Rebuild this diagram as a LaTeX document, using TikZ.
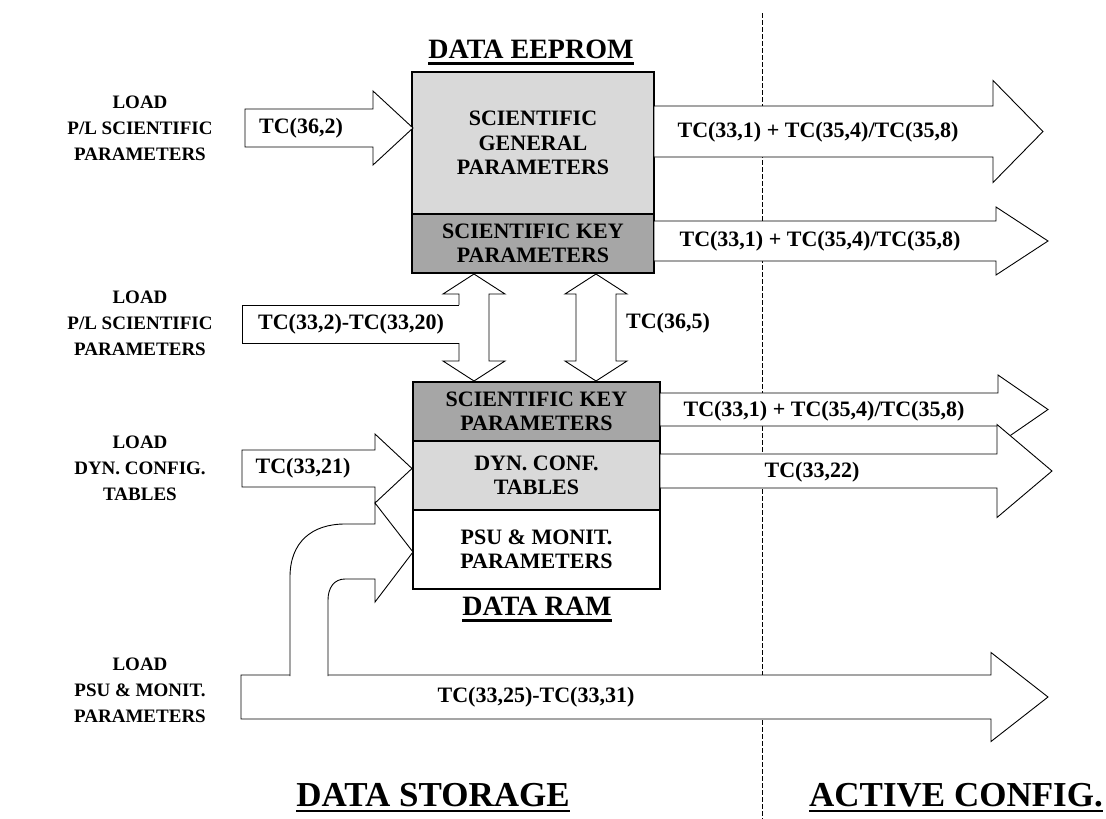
\documentclass[tikz,border=0pt]{standalone}
\usepackage{fontspec}
\setmainfont{Liberation Serif}
\usepackage{xcolor}
\usetikzlibrary{positioning}
\definecolor{cpale}{HTML}{D9D9D9}
\definecolor{cmid}{HTML}{A6A6A6}

% horizontal block arrow: x start, y mid, half shaft, head x, half head, tip x
\newcommand{\harrow}[6]{%
  \draw[fatarr] (#1,#2-#3) -- (#4,#2-#3) -- (#4,#2-#5) -- (#6,#2)
    -- (#4,#2+#5) -- (#4,#2+#3) -- (#1,#2+#3) -- cycle;}
% vertical double block arrow: x mid, y top, y bottom, half shaft, half head, head length
\newcommand{\vdarrow}[6]{%
  \draw[fatarr] (#1,#2) -- (#1+#5,#2+#6) -- (#1+#4,#2+#6) -- (#1+#4,#3-#6)
    -- (#1+#5,#3-#6) -- (#1,#3) -- (#1-#5,#3-#6) -- (#1-#4,#3-#6)
    -- (#1-#4,#2+#6) -- (#1-#5,#2+#6) -- cycle;}

\begin{document}
\begin{tikzpicture}[x=1pt, y=-1pt,
    blk/.style={draw=black, line width=1.6pt, inner sep=0pt, outer sep=0pt,
                align=center, font=\fontsize{22}{24.5}\selectfont\bfseries},
    fatarr/.style={draw=black, line width=0.9pt, fill=white},
    sidelbl/.style={align=center, font=\fontsize{19}{26}\selectfont\bfseries},
    tclbl/.style={font=\fontsize{22}{24}\selectfont\bfseries, inner sep=0pt},
    ttl/.style={font=\fontsize{28}{30}\selectfont\bfseries, inner xsep=0pt, anchor=base},
    bigttl/.style={font=\fontsize{35}{38}\selectfont\bfseries, inner xsep=0pt, anchor=base},
    uline/.style={line width=2.4pt},
    dashline/.style={line width=0.9pt, dash pattern=on 5pt off 2pt},
]
\fill[white] (0,0) rectangle (1106,819);
\useasboundingbox (0,0) rectangle (1106,819);

% storage / active split
\draw[dashline] (762,13) -- (762,819);

% data eeprom
\node[blk, fill=cpale, minimum width=242pt, minimum height=142pt] (sgp) at (533,143)
    {SCIENTIFIC\\GENERAL\\PARAMETERS};
\node[blk, fill=cmid, minimum width=242pt, minimum height=59pt, below=0pt of sgp] (skpE)
    {SCIENTIFIC KEY\\PARAMETERS};

% data ram
\node[blk, fill=cmid, minimum width=247pt, minimum height=59pt] (skpR) at (536.5,411.5)
    {SCIENTIFIC KEY\\PARAMETERS};
\node[blk, fill=cpale, minimum width=247pt, minimum height=69pt, below=0pt of skpR] (dct)
    {DYN. CONF.\\TABLES};
\node[blk, fill=white, minimum width=247pt, minimum height=79pt, below=0pt of dct] (psu)
    {PSU \& MONIT.\\PARAMETERS};

% titles
\node[ttl] (dee) at (531,58.5) {DATA EEPROM};
\draw[uline] ([yshift=-5pt]dee.base west) -- ([yshift=-5pt]dee.base east);
\node[ttl] (dram) at (537,615.5) {DATA RAM};
\draw[uline] ([yshift=-5pt]dram.base west) -- ([yshift=-5pt]dram.base east);
\node[bigttl] (dsto) at (433,806) {DATA STORAGE};
\draw[uline] ([yshift=-5pt]dsto.base west) -- ([yshift=-5pt]dsto.base east);
\node[bigttl] (acfg) at (956,806) {ACTIVE CONFIG.};
\draw[uline] ([yshift=-5pt]acfg.base west) -- ([yshift=-5pt]acfg.base east);

% block arrows
\harrow{245}{128}{19}{373}{37}{413}
\harrow{654}{131.5}{25.5}{993}{51}{1043}
\harrow{654}{241}{20}{996}{34}{1048}
\vdarrow{474}{274}{381}{15}{31}{20}
\vdarrow{596}{274}{381}{20}{31}{20}
\fill[white] (242,305) rectangle (460,343);
\draw[fatarr, fill=none] (459,305) -- (242,305) -- (242,343) -- (459,343);
\harrow{660}{409.5}{16.5}{998}{34.5}{1048}
\harrow{660}{471}{17}{997}{46.5}{1052}
\harrow{242}{468.5}{18.5}{375}{34.5}{412}
\harrow{241}{697}{22}{991}{44.5}{1048}
% branch up to the psu section
\draw[fatarr] (290,676) -- (290,577) .. controls (290,542) and (312,524) .. (345,524)
    -- (375,524) -- (375,503) -- (413,552) -- (375,602) -- (375,579) -- (345,579)
    .. controls (334,579) and (328,588) .. (328,600) -- (328,676);

% side labels
\node[sidelbl] (ldsci) at (140,128) {LOAD\\P/L SCIENTIFIC\\PARAMETERS};
\node[sidelbl] (ldkey) at (140,323) {LOAD\\P/L SCIENTIFIC\\PARAMETERS};
\node[sidelbl] (lddyn) at (140,468) {LOAD\\DYN. CONFIG.\\TABLES};
\node[sidelbl] (ldpsu) at (140,690) {LOAD\\PSU \& MONIT.\\PARAMETERS};

% telecommand labels
\node[tclbl] (tc362) at (301,128) {TC(36,2)};
\node[tclbl] (tcgen) at (818,132) {TC(33,1) + TC(35,4)/TC(35,8)};
\node[tclbl] (tckeyE) at (820,241) {TC(33,1) + TC(35,4)/TC(35,8)};
\node[tclbl] (tc3320) at (351,324) {TC(33,2)-TC(33,20)};
\node[tclbl] (tc365) at (668,323) {TC(36,5)};
\node[tclbl] (tckeyR) at (824,411) {TC(33,1) + TC(35,4)/TC(35,8)};
\node[tclbl] (tc3321) at (303,468) {TC(33,21)};
\node[tclbl] (tc3322) at (812,472) {TC(33,22)};
\node[tclbl] (tc3331) at (536,697) {TC(33,25)-TC(33,31)};
\end{tikzpicture}
\end{document}
